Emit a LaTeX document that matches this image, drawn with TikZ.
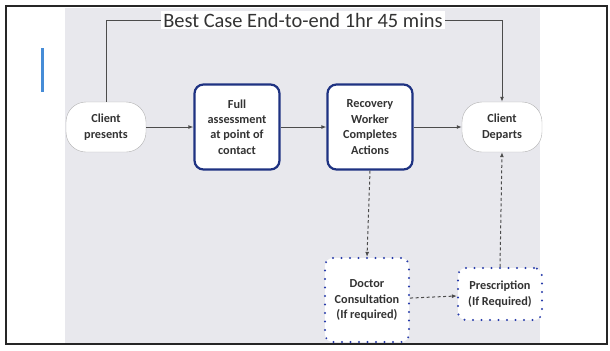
\documentclass[tikz,border=0pt]{standalone}
\usepackage{fontspec}
\setmainfont{Carlito}
\usetikzlibrary{arrows.meta}

\definecolor{slide}{RGB}{232,232,237}
\definecolor{boxblue}{RGB}{30,50,130}
\definecolor{dotblue}{RGB}{40,60,170}
\definecolor{barblue}{RGB}{70,140,215}

\begin{document}
\begin{tikzpicture}[x=1bp,y=-1bp,
    every node/.style={font=\bfseries\fontsize{12.3}{15.5}\selectfont,align=center,text=black!80},
    endpt/.style={draw=gray!60,fill=white,rounded corners=20bp,minimum width=80bp,minimum height=50bp},
    stepbox/.style={draw=boxblue,line width=2.2bp,fill=white,rounded corners=9bp,minimum width=85bp,minimum height=85bp},
    optbox/.style={draw=dotblue,fill=white,line width=2.2bp,line cap=round,dash pattern=on 0pt off 8.5bp,rounded corners=8bp,inner sep=1bp},
    flow/.style={draw=black!70,line width=1bp,-{Latex[length=5bp,width=4bp]}},
    maybe/.style={flow,dash pattern=on 3bp off 2.5bp}]

  % slide background and frame
  \useasboundingbox (0,0) rectangle (610,350);
  \fill[white] (0,0) rectangle (610,350);
  \fill[slide] (65,8) rectangle (540,343);
  \fill[barblue] (41,48) rectangle (43.5,92);
  \draw[black!85,line width=1.5bp] (6,6) rectangle (607,344);

  % main path
  \node[endpt] (present) at (106,127) {Client\\presents};
  \node[stepbox] (assess) at (237,127) {Full\\assessment\\at point of\\contact};
  \node[stepbox] (worker) at (370,127) {Recovery\\Worker\\Completes\\Actions};
  \node[endpt] (depart) at (502,127) {Client\\Departs};

  % optional branch
  \node[optbox,minimum width=84bp,minimum height=84bp] (doctor) at (367,300) {Doctor\\Consultation\\(If required)};
  \node[optbox,minimum width=84bp,minimum height=52bp] (script) at (500,294) {Prescription\\(If Required)};

  \draw[flow] (present) -- (assess);
  \draw[flow] (assess) -- (worker);
  \draw[flow] (worker) -- (depart);

  \draw[maybe] (worker.south) -- (doctor.north);
  \draw[maybe] (doctor) -- (script);
  \draw[maybe] (script.north) -- (depart.south);

  % best case bracket
  \draw[flow] (present.north) |- (290,20) -| (depart.north);
  \node[fill=white,font=\fontsize{20.5}{22}\selectfont,inner sep=2bp] (best) at (303,20) {Best Case End-to-end 1hr 45 mins};
\end{tikzpicture}
\end{document}
